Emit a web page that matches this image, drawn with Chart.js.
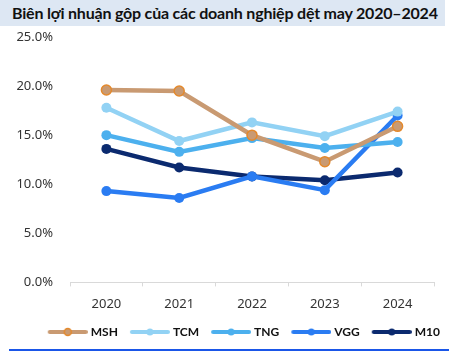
<!DOCTYPE html>
<html>
<head>
<meta charset="utf-8">
<script src="https://cdn.jsdelivr.net/npm/chart.js@4.4.1/dist/chart.umd.min.js"></script>
<style>
  html, body { margin: 0; padding: 0; background: #fff; }
  #wrap { position: relative; width: 449px; height: 352px; overflow: hidden; }
  #title {
    position: absolute; left: 0; top: 0; width: 445px; height: 26px; z-index: 2;
    background: #dde7f3; color: #111;
    font-family: Lato, sans-serif; font-weight: 700; font-size: 16px; letter-spacing: -0.2px;
    line-height: 26px; padding-left: 12px; box-sizing: border-box; white-space: nowrap;
  }
  #box { position: absolute; left: 0; top: 0; width: 449px; height: 348px; }
  #rule { position: absolute; left: 9px; top: 349px; width: 440px; height: 2px; background: #1a56e8; z-index: 2; }
</style>
</head>
<body>
<div id="wrap">
  <div id="title">Biên lợi nhuận gộp của các doanh nghiệp dệt may 2020–2024</div>
  <div id="box"><canvas id="gm"></canvas></div>
  <div id="rule"></div>
</div>
<script>
// years and gross margin (%) per company
const years = ['2020', '2021', '2022', '2023', '2024'];
const msh = [19.6, 19.5, 15.0, 12.3, 15.9];
const tcm = [17.8, 14.4, 16.3, 14.9, 17.4];
const tng = [15.0, 13.3, 14.7, 13.7, 14.3];
const vgg = [9.3, 8.6, 10.8, 9.4, 17.0];
const m10 = [13.6, 11.7, 10.8, 10.4, 11.2];
const yTicks = [0, 5, 10, 15, 20, 25];

const fontFam = "'Noto Sans', sans-serif";

// small line + dot image used as legend marker (line sits 3px right so the gap to the text is small)
function legendMark(line, dot, border) {
    const c = document.createElement('canvas');
    c.width = 46; c.height = 12;
    const g = c.getContext('2d');
    g.strokeStyle = line;
    g.lineWidth = 4;
    g.lineCap = 'round';
    g.beginPath(); g.moveTo(8, 6); g.lineTo(44, 6); g.stroke();
    g.fillStyle = dot;
    g.beginPath(); g.arc(26, 6, 3.5, 0, Math.PI * 2); g.fill();
    if (border) {
        g.strokeStyle = border; g.lineWidth = 1.5;
        g.stroke();
    }
    return c;
}

function series(label, data, color, border) {
    return {
        label: label,
        data: data,
        borderColor: color,
        backgroundColor: color,
        borderWidth: 4.5,
        pointRadius: 5,
        pointHoverRadius: 5,
        pointBackgroundColor: color,
        pointBorderColor: border || color,
        pointBorderWidth: border ? 1.5 : 0,
        tension: 0,
        mark: legendMark(color, color, border)
    };
}

const datasets = [
    series('MSH', msh, '#c99a72', '#e4892c'),
    series('TCM', tcm, '#92d2f4'),
    series('TNG', tng, '#4cb0ee'),
    series('VGG', vgg, '#2a7cf2'),
    series('M10', m10, '#0b2a6f')
];

new Chart(document.getElementById('gm'), {
    type: 'line',
    data: { labels: years, datasets: datasets },
    options: {
        responsive: true,
        maintainAspectRatio: false,
        animation: false,
        layout: { padding: { top: 37, right: 0, bottom: 0, left: 6 } },
        plugins: {
            title: { display: false },
            tooltip: { enabled: false },
            legend: {
                display: true,
                position: 'bottom',
                align: 'end',
                labels: {
                    usePointStyle: true,
                    pointStyleWidth: 40,
                    padding: 9,
                    color: '#111',
                    font: { family: 'Lato, sans-serif', size: 12, weight: 'bold' },
                    generateLabels: function(chart) {
                        return chart.data.datasets.map((ds, i) => ({
                            text: ds.label,
                            pointStyle: ds.mark,
                            fillStyle: ds.borderColor,
                            strokeStyle: ds.borderColor,
                            lineWidth: 0,
                            fontColor: '#111',
                            datasetIndex: i,
                            hidden: false
                        }));
                    }
                }
            }
        },
        scales: {
            x: {
                offset: true,
                grid: { display: true, drawOnChartArea: false, drawTicks: true, tickLength: 4, color: '#d9d9d9', offset: true },
                border: { display: true, color: '#d9d9d9', width: 1 },
                ticks: { color: '#333', padding: 10, font: { family: fontFam, size: 13 } },
                afterFit: function(s) { s.height -= 5; }
            },
            y: {
                min: 0,
                max: 25,
                afterBuildTicks: function(axis) {
                    axis.ticks = yTicks.map(v => ({ value: v }));
                },
                grid: { display: false },
                border: { display: false },
                ticks: {
                    color: '#333',
                    padding: 9,
                    font: { family: fontFam, size: 13 },
                    callback: function(v) { return v.toFixed(1) + '%'; }
                },
                afterFit: function(s) { s.width = 64; }
            },
            // empty right gutter so the legend can sit further right than the plot
            gutter: {
                type: 'linear',
                position: 'right',
                grid: { display: false },
                border: { display: false },
                ticks: { display: false },
                afterFit: function(s) { s.width = 15; }
            }
        }
    }
});
</script>
</body>
</html>
